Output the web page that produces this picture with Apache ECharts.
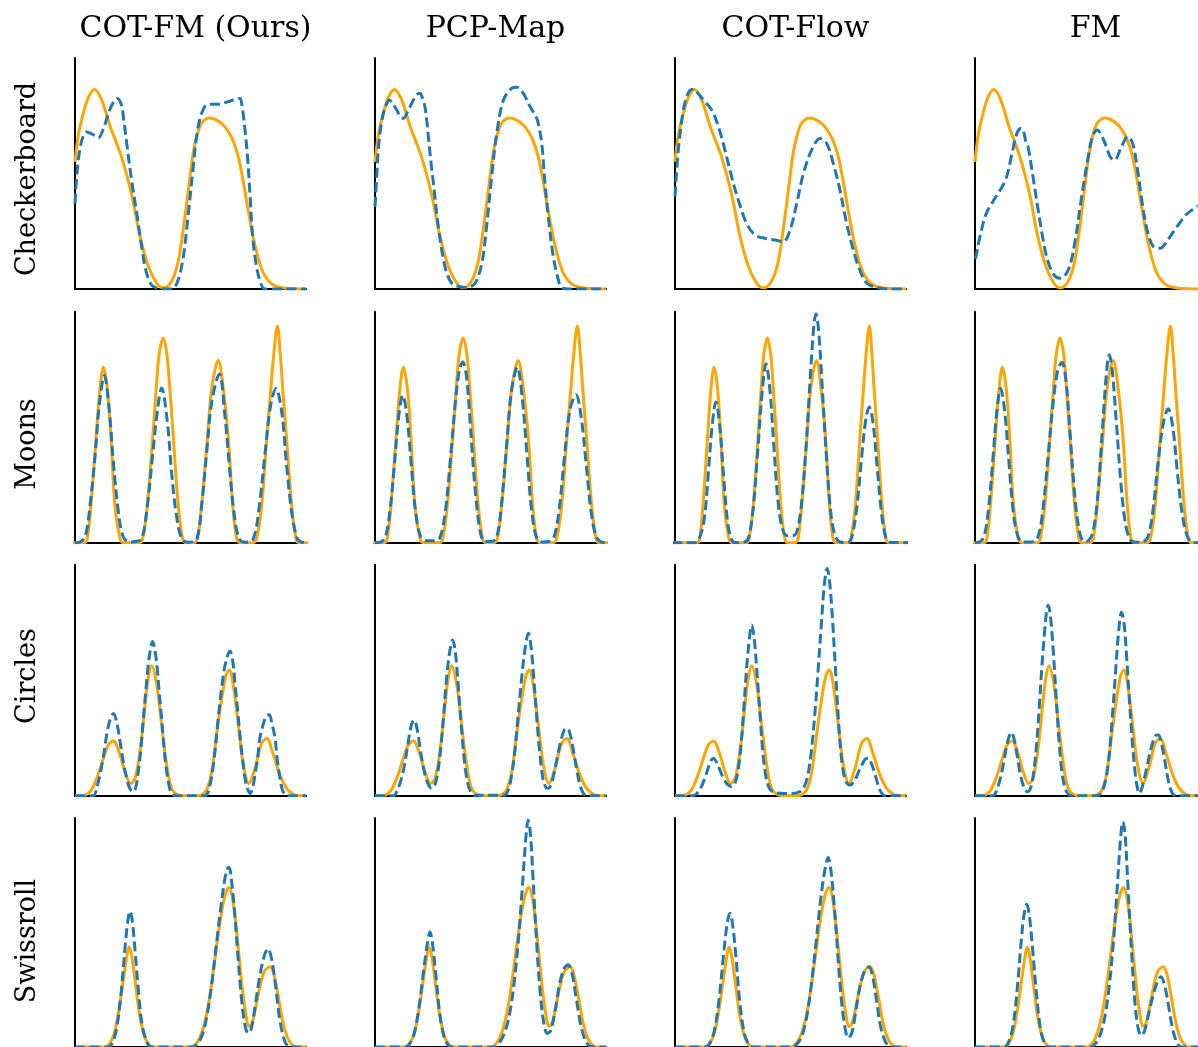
<!DOCTYPE html>
<html>
<head>
<meta charset="utf-8">
<title>Conditional density comparison</title>
<script src="https://cdn.jsdelivr.net/npm/echarts@6/dist/echarts.min.js"></script>
<style>
  html, body { margin: 0; padding: 0; background: #fff; }
  #chart { width: 1198px; height: 1047px; }
</style>
</head>
<body>
<div id="chart"></div>
<script>
// Column (method) and row (dataset) names
const methods = ['COT-FM (Ours)', 'PCP-Map', 'COT-Flow', 'FM'];
const datasets = ['Checkerboard', 'Moons', 'Circles', 'Swissroll'];

// ---- Checkerboard: [x, density] pairs ----
const cbTruth = [[0,55],[1.5,67],[3.6,76],[5.8,83],[8.4,86.4],[11.5,82],[15.2,70.5],[20.2,57],[24.5,41],[28.1,23],[31.7,10],[35.4,2.5],[38.2,0.5],[40.5,1.5],[42.6,5],[44.5,11],[46.2,21],[49.1,43],[51.2,59],[53,67],[55,72],[58.4,74],[61.5,73],[64.2,71],[66.5,68],[68.5,64],[70.5,58],[72.2,50],[75,34],[77.9,19],[81.5,7],[85.9,1.7],[91.6,0.3],[100,0]];
const cbCotfm = [[0,37],[1,52],[2.2,61],[3.5,66],[5.1,68],[7.5,67],[10.1,65.5],[12.5,70],[15.2,78],[18.3,82.5],[20,80],[21,74],[22.4,63],[24.5,47],[26.7,33],[28.9,18],[30.7,8],[33.2,1.7],[36.8,0.1],[40,0],[42.6,0.4],[44.7,4],[46.9,14],[49.1,33],[51.2,53],[53,68.5],[55.6,78],[58,80],[62,80],[66,81],[69,82],[71.4,82.5],[72.2,80],[73.6,68.8],[74.8,55.8],[75.8,40],[76.9,22.6],[78.6,9.7],[80.4,2.5],[82.2,0],[100,0]];
const cbPcpmap = [[0,35.6],[0.7,48],[1.4,60],[2.5,70],[3.6,76],[5,80],[6.2,81.8],[7.8,80],[9.4,77.5],[11,74.5],[12.3,73.9],[14,76.5],[15.9,80.4],[18,84],[19.5,84.7],[20.6,82.5],[21.6,79],[22.4,73],[23.1,66],[24.2,55],[25.3,45.7],[27.4,27],[30.3,9.7],[33.2,2.5],[36.8,1],[39.7,0.7],[43.3,2.5],[46.2,11],[48.3,27],[50.5,48.6],[52.7,67.4],[55.6,81.8],[59.2,86.9],[61.3,87.3],[64.2,84.7],[67.1,79],[70,73.9],[71.2,69],[72.2,63],[73.6,45.7],[75,31.3],[77.2,14],[79.4,3.9],[80.8,0.7],[84,0],[100,0]];
const cbCotflow = [[0,40],[1.4,60],[3.6,77.5],[5,83],[6.5,86.1],[8,86.5],[9.4,85.4],[12.3,81.8],[15.9,77.5],[18.8,70.3],[21.6,60.2],[24.5,48.6],[27.4,38.5],[31,28.4],[34.6,23.4],[39,21.9],[43.3,21.2],[46.9,20.5],[49.8,25.5],[52.7,37.1],[55.6,50],[59.2,60.2],[62.8,65.2],[65.7,63],[68.5,54.4],[71.4,42.9],[74.3,28.4],[77.2,16.9],[80,8.2],[83,2.5],[87.3,0.7],[93,0],[100,0]];
const cbFm = [[0,13],[0.4,14],[2.2,22.6],[5.1,32.8],[9.4,40],[13.7,47.2],[16.6,58.7],[18.8,67.4],[20.6,69.5],[21.6,68.8],[23,63],[23.8,61.6],[26,48.6],[28.1,35.6],[30.3,22.6],[32.5,12.6],[35.4,6.1],[38.2,4.6],[41.8,8.2],[44.7,19.8],[47.6,38.5],[50.5,55.8],[52.7,66],[54.8,68.8],[57.7,64.5],[60.6,57.3],[62.5,55.8],[65.7,61.6],[68.5,66],[70.7,63],[72.9,51.5],[75,37.1],[77.2,25.5],[80,18.3],[83,17.6],[85.9,20.5],[90.2,26.5],[94.5,32],[97,34],[100,36]];

// ---- Moons ----
const mnTruth = [[-8,0],[4,0],[5.3,1.7],[6.9,16],[9.1,45],[10.8,66.7],[12.3,76],[14,66.7],[15.6,45],[17.3,16],[19.5,1.7],[21,0],[28,0],[29.3,1.7],[31.3,16],[33.6,45],[35.4,70],[36.5,82],[38.2,88.6],[39.7,82],[40.8,70],[42.6,45],[44.7,16],[46.6,1.7],[48,0],[51.5,0],[53,1.7],[54.8,16],[57.3,45],[59.2,66.7],[62,78.9],[64.2,66.7],[66.4,45],[68.3,16],[70,1.7],[71.5,0],[77,0],[78.6,1.7],[80.8,16],[83,45],[84.8,67],[85.9,80],[87.6,93.8],[89,80],[89.9,67],[91.6,45],[93.8,16],[95.7,1.7],[97,0],[108,0]];
const mnCotfm = [[0,0],[2.2,0.3],[4.5,3],[6.5,16],[8.7,37.8],[10.5,59.5],[12.7,72.4],[14.9,56.6],[16.6,35],[18.8,13.3],[20.9,2.5],[23.8,0.3],[26,0.5],[28.9,1.7],[31.3,16],[33.6,37.8],[35.6,56.6],[37.5,67],[40,52],[41.8,30.6],[43.7,13.3],[46.2,1.7],[49,0.2],[52.7,1.7],[54.8,16],[57,39],[59.2,61],[62.5,73],[64.9,55],[66.8,33.5],[68.8,13.3],[71.1,1.7],[74,0.2],[77.2,1.7],[79.8,16],[82.3,39],[84.7,59.5],[87,66.7],[89.5,56.6],[91.6,33.5],[93.8,13.3],[96.2,1.7],[98,0.3],[100,0]];
const mnPcpmap = [[0,0],[2.5,0.3],[4.5,2.5],[6.5,14],[8.5,35],[10.3,55],[12,63.8],[13.8,55],[15.6,35],[17.6,13],[19.8,2.5],[22,0.8],[25,0.8],[28,2],[30.5,14],[32.8,38],[35,63],[36.6,75],[38,78.2],[39.6,72],[41.2,52],[43.2,25],[45.5,5],[47.5,0.5],[50,0.5],[52.5,2],[54.5,14],[56.8,40],[59,65],[61.6,76],[63.8,62],[65.8,38],[67.8,14],[70,2],[72.5,0.3],[75,0.5],[77.5,2.5],[79.8,15],[82,37],[84.5,58],[87,64],[89.3,54],[91.5,33],[93.6,13],[95.8,2.5],[98,0.3],[100,0]];
const mnCotflow = [[-8,0],[3,0],[5,1.5],[7.5,10],[9.5,30],[11.3,50],[13.2,60.9],[15.1,50],[17,28],[19,8],[21,1],[23,0],[27,0.3],[29,2],[31.3,15],[33.5,40],[35.7,66],[37.5,77.5],[39.4,66],[41.3,42],[43.3,18],[45.5,6],[48,3],[50.5,3],[52.5,5],[54.5,15],[56.8,40],[59,72],[60.6,93],[61.7,99],[62.9,93],[64.6,70],[66.6,40],[68.8,14],[71,3],[73.5,0.3],[77,0],[79,2],[81.5,15],[84,38],[86,54],[87.6,58.7],[89.4,52],[91.4,33],[93.5,13],[95.5,2.5],[97.5,0.2],[108,0]];
const mnFm = [[0,0],[2,0.3],[4,2.5],[6,14],[8,36],[9.8,57],[11.5,66.7],[13.3,57],[15.2,35],[17.2,13],[19.3,2.5],[21.5,0.3],[25,0.3],[28,2],[30.3,13],[32.8,38],[35.2,62],[37.2,75],[39,78],[40.8,70],[42.6,48],[44.6,22],[46.8,5],[49,0.5],[51,1],[53,5],[55,20],[57.2,50],[59,74],[60.2,81.4],[61.5,75],[63.4,52],[65.4,26],[67.5,8],[69.8,1],[72.5,0.2],[75,0.3],[77.5,2.5],[79.8,14],[82,34],[84.5,52],[86.6,58],[88.7,50],[90.8,30],[93,12],[95.3,2.5],[97.5,0.3],[100,0]];

// ---- Circles ----
const ciTruth = [[0,0],[3,0],[6.5,1.7],[9.4,7.5],[12.3,16.2],[14.4,22],[16.6,23.7],[19.5,17.6],[21.6,10.4],[24.1,5.3],[26,7.5],[28.1,19],[30.3,39],[31.7,50.8],[33.2,56.3],[35.4,48],[37.5,30.6],[39.7,13.3],[41.8,3.2],[44.7,0.3],[47,0],[53,0],[55,0.5],[57,2.5],[59.2,10.4],[61.3,26.3],[63.5,42],[65.4,52.2],[66.8,54.4],[68.5,48],[70.7,30.6],[72.9,13.3],[75.3,5.3],[77.9,11.8],[80.8,22.7],[83,24.8],[85.9,17.6],[88.7,9],[91.6,3.2],[94.5,0.6],[97,0],[100,0]];
const ciCotfm = [[0,0],[7.9,0],[9.3,3],[10.8,9],[12.3,17],[13.7,26.3],[15.2,33],[16.6,35.6],[18,32],[19.5,23.4],[21,14],[22.4,7.5],[23.8,3],[25.3,1.7],[26.4,4],[27.4,10.4],[28.5,20],[29.6,33.5],[30.7,46],[31.7,56.6],[32.7,63.5],[33.6,66.7],[34.6,63],[35.6,55],[36.5,44],[37.5,33.5],[38.6,20],[39.7,10.4],[40.8,4],[41.8,1],[43.5,0],[56,0],[57.7,1.7],[59.9,13.3],[62,33.5],[64.2,52.2],[65.7,59.5],[67.1,62.6],[68.2,59],[69.3,48],[70.4,37],[71.4,26.3],[72.5,16],[73.6,7.5],[74.7,3],[75.8,1],[76.9,3.5],[77.9,9],[79,16],[80,24.8],[81.5,31],[82.8,34.5],[84.1,35],[85.3,31],[86.6,24.8],[87.5,16],[88.5,9],[89.5,3.5],[90.5,1],[92,0],[100,0]];
const ciPcpmap = [[0,0],[8,0],[9.5,2],[11,6],[12.7,13],[14.2,22],[15.6,30],[16.9,32.8],[18.2,29],[19.6,20],[21,12],[22.6,6],[24.5,3.2],[26,5],[27.3,11],[28.6,22],[29.8,36],[31,51],[32.3,62],[33.6,67.4],[34.8,62],[36,48],[37.3,31],[38.6,16],[40,6],[41.5,1.5],[43,0.2],[56,0.2],[57.5,2],[59,8],[60.5,19],[62,35],[63.5,51],[65,64],[66.4,70.3],[67.6,64],[68.8,50],[70,34],[71.3,19],[72.6,8],[74,3.5],[75,3.2],[76.3,5],[77.6,10],[79,17],[80.5,24],[82,28.5],[83.3,29.1],[84.6,26],[86,19],[87.4,11],[88.8,4.5],[90.2,1],[92,0],[100,0]];
const ciCotflow = [[0,0],[8,0],[9.5,1],[11,3],[12.7,7],[14.2,11.5],[15.5,15],[16.6,16.2],[18,14.5],[19.5,11],[21,7.5],[22.6,5],[24.5,3.9],[26,5.5],[27.3,11],[28.6,22],[29.8,38],[31,55],[32.2,68],[33.2,73.9],[34.3,68],[35.5,53],[36.8,35],[38,19],[39.4,8],[41,3],[43,1.5],[47,1],[51,1],[54,1.7],[56,4],[57.5,9],[59,19],[60.5,35],[62,55],[63.4,75],[64.7,92],[65.9,98.4],[67,92],[68.2,76],[69.5,54],[70.8,32],[72.2,15],[73.6,7],[74.8,5],[75.8,4.6],[77,5.5],[78.5,8],[80,11.5],[81.5,14.5],[82.6,16],[83.7,16.2],[85,14],[86.4,10],[87.8,5],[89.2,1.5],[91,0],[100,0]];
const ciFm = [[0,0],[8,0],[9.6,2],[11.2,7],[12.8,14],[14.3,22],[15.4,26],[16.3,27.4],[17.4,25],[18.8,18],[20.2,10],[21.8,4],[23.5,1.7],[25,3.5],[26.3,10],[27.6,22],[28.8,38],[30,56],[31.3,72],[32,79],[32.8,82.5],[33.8,78],[35,64],[36.3,44],[37.6,25],[39,10],[40.5,3],[42,0.5],[44,0],[55,0],[56.8,1.5],[58.4,6],[60,16],[61.5,33],[63,53],[64.4,71],[65.7,79.4],[66.9,74],[68,60],[69.2,42],[70.5,24],[71.8,10],[72.8,3.5],[73.6,1],[74.6,2.5],[75.8,7],[77.2,13],[78.8,20],[80.4,25],[81.3,26.2],[82.3,26.3],[83.4,23.5],[84.8,17],[86.2,9],[87.6,3],[89,0.5],[91,0],[100,0]];

// ---- Swissroll ----
const srTruth = [[0,0],[13,0],[15,1.5],[17,6],[19,16],[21,30],[22.5,40],[23.4,43.7],[24.5,40],[26,29],[28,14],[30,5],[32,1],[34,0],[50,0],[52,1],[54,4],[56,10],[58,20],[60,34],[62,49],[64,62],[65.5,68],[66.7,69.7],[68,66],[69.5,55],[71,40],[72.5,25],[74,14],[75.3,9],[76.5,10],[78,16],[80,26],[82,33],[84.4,35],[86,32],[88,22],[90,11],[92,4],[94,1],[96,0],[100,0]];
const srCotfm = [[0,0],[14,0],[16,1.5],[18,8],[20,24],[21.8,45],[23,56],[23.8,59.3],[24.8,55],[26,42],[27.5,24],[29,10],[31,2.5],[33,0],[51,0],[53,1.5],[55,5],[57,13],[59,26],[61,43],[63,60],[64.8,73],[66,78],[66.7,78.4],[67.6,74],[69,60],[70.5,40],[72,22],[73.5,10],[75,6],[76.3,8],[78,18],[80,31],[82,40],[83.5,42.9],[85,39],[86.8,27],[88.5,13],[90.3,4],[92,0.5],[94,0],[100,0]];
const srPcpmap = [[0,0],[13,0],[15,1.5],[17,6],[19,17],[21,33],[22.8,46],[23.8,50.2],[24.8,46],[26.3,32],[28,15],[30,4],[32,0.5],[34,0],[52,0],[54,2],[56,6],[58,13],[60,26],[62,46],[63.8,70],[65.2,90],[66.3,99],[67.3,93],[68.5,72],[70,45],[71.5,24],[73,11],[74.5,6],[76,7],[78,16],[80,28],[82,34.5],[83.6,35.9],[85.3,32],[87,22],[89,10],[91,3],[93,0.3],[95,0],[100,0]];
const srCotflow = [[0,0],[13,0],[15,1.5],[17,7],[19,20],[21,40],[22.6,54],[23.8,58.4],[25,53],[26.5,38],[28,20],[30,6],[32,1],[34,0],[51,0],[53,1.5],[55,5],[57,13],[59,27],[61,45],[63,64],[65,78],[66.3,82.7],[67.4,78],[69,61],[70.5,40],[72,21],[73.5,9],[75,4],[76.5,6],[78,14],[80,26],[82,33],[83.9,35],[85.5,31],[87.3,20],[89,9],[91,2.5],[93,0.3],[95,0],[100,0]];
const srFm = [[0,0],[13,0],[15,2],[17,9],[19,26],[20.8,47],[22,58],[23.2,62.3],[24.3,58],[25.8,43],[27.5,24],[29.2,9],[31,2],[33,0],[52,0],[54,1.5],[56,5],[58,12],[60,25],[62,45],[63.8,70],[65.2,90],[66.3,98.3],[67.3,93],[68.5,72],[70,45],[71.5,22],[73,9],[74.5,5],[76,7],[78,15],[80,23],[82,29],[83.4,30.7],[85,27],[86.8,18],[88.6,8],[90.5,2],[92.5,0],[100,0]];

// One ground-truth curve per dataset, one model curve per panel
const truthByRow = [cbTruth, mnTruth, ciTruth, srTruth];
const modelByRow = [
  [cbCotfm, cbPcpmap, cbCotflow, cbFm],
  [mnCotfm, mnPcpmap, mnCotflow, mnFm],
  [ciCotfm, ciPcpmap, ciCotflow, ciFm],
  [srCotfm, srPcpmap, srCotflow, srFm]
];
// Horizontal extent of each panel (COT-Flow on Moons spans a wider range)
const xMinByRow = [[0,0,0,0],[0,0,-6.65,0],[0,0,0,0],[0,0,0,0]];
const xMaxByRow = [[100,100,100,100],[100,100,105.4,100],[100,100,100,100],[100,100,100,100]];

// Panel geometry in pixels
const PANEL_W = 231, PANEL_H = 231;
const colLeft = [75, 375, 675, 975];
const rowTop = [58, 311.7, 564.7, 818];
const rowLabelY = [179, 444, 676, 941];

const ORANGE = '#FFA500';
const BLUE = '#1f77b4';
const FONT = '"DejaVu Serif", "Liberation Serif", serif';

const grid = [], xAxis = [], yAxis = [], series = [];
const axisCommon = {
  axisLine: { show: true, onZero: false, lineStyle: { color: '#000', width: 2 } },
  axisTick: { show: false },
  axisLabel: { show: false },
  splitLine: { show: false }
};

for (let r = 0; r < 4; r++) {
  for (let c = 0; c < 4; c++) {
    const i = r * 4 + c;
    grid.push({ left: colLeft[c], top: rowTop[r], width: PANEL_W, height: PANEL_H, containLabel: false });
    xAxis.push(Object.assign({ type: 'value', gridIndex: i, min: xMinByRow[r][c], max: xMaxByRow[r][c] }, axisCommon));
    yAxis.push(Object.assign({ type: 'value', gridIndex: i, min: 0, max: 100 }, axisCommon));
    series.push({
      type: 'line', xAxisIndex: i, yAxisIndex: i, data: truthByRow[r],
      showSymbol: false, smooth: 0.35, clip: true, z: 2,
      lineStyle: { color: ORANGE, width: 3 }
    });
    series.push({
      type: 'line', xAxisIndex: i, yAxisIndex: i, data: modelByRow[r][c],
      showSymbol: false, smooth: 0.35, clip: true, z: 3,
      lineStyle: { color: BLUE, width: 3, type: [10, 4.5] }
    });
  }
}

const titles = methods.map((m, c) => ({
  text: m,
  left: colLeft[c] + PANEL_W / 2,
  top: 9,
  textAlign: 'center',
  textStyle: { fontFamily: FONT, fontWeight: 'normal', fontSize: 30, color: '#000' }
}));

const rowLabels = datasets.map((d, r) => ({
  type: 'text',
  x: 28, y: rowLabelY[r],
  rotation: Math.PI / 2,
  style: {
    text: d, fill: '#000',
    font: '27px ' + FONT,
    textAlign: 'center', textVerticalAlign: 'middle'
  }
}));

const chart = echarts.init(document.getElementById('chart'));
chart.setOption({
  animation: false,
  backgroundColor: '#fff',
  title: titles,
  grid, xAxis, yAxis, series,
  graphic: rowLabels
});
</script>
</body>
</html>
